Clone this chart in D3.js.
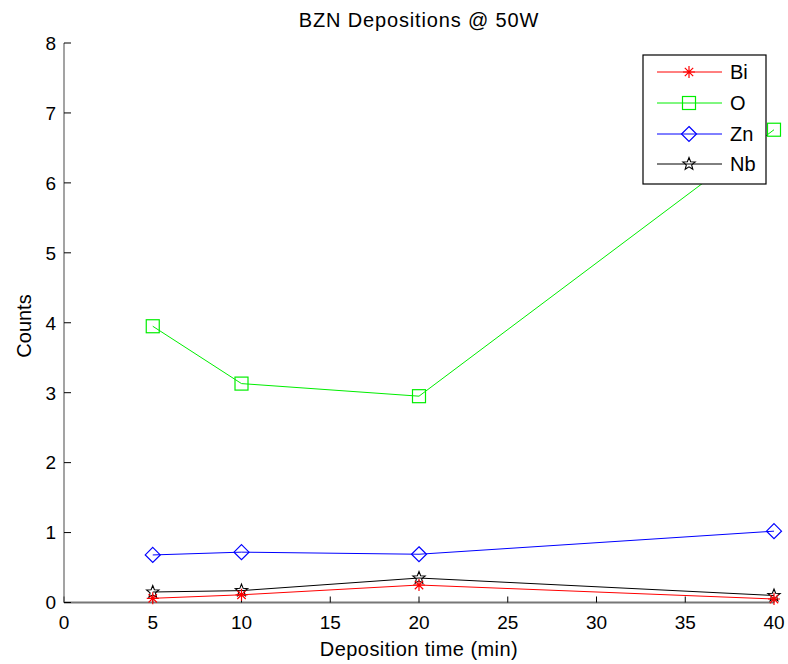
<!DOCTYPE html>
<html>
<head>
<meta charset="utf-8">
<script src="https://cdn.jsdelivr.net/npm/d3@7"></script>
<style>
body { margin: 0; background: #fff; }
text { font-family: "Liberation Sans", Arial, Helvetica, sans-serif; fill: #000; }
</style>
</head>
<body>
<svg width="788" height="664"></svg>
<script>
// deposition times (min)
var times = [5, 10, 20, 40];
// counts per element
var bi = [0.06, 0.11, 0.25, 0.05];
var ox = [3.95, 3.13, 2.95, 6.76];
var zn = [0.68, 0.72, 0.69, 1.02];
var nb = [0.15, 0.17, 0.35, 0.10];

var xTicks = [0, 5, 10, 15, 20, 25, 30, 35, 40];
var yTicks = [0, 1, 2, 3, 4, 5, 6, 7, 8];

var series = [
	{ name: "Bi", values: bi, color: "#ff0000", marker: "asterisk" },
	{ name: "O", values: ox, color: "#00ee00", marker: "square" },
	{ name: "Zn", values: zn, color: "#0000ff", marker: "diamond" },
	{ name: "Nb", values: nb, color: "#000000", marker: "star" }
];

var svg = d3.select("svg");

var x = d3.scaleLinear().domain([0, 40]).range([64, 774]);
var y = d3.scaleLinear().domain([0, 8]).range([602.5, 43]);

var FS = 19;  // tick labels
var LFS = 20; // title, labels, legend

// draw a marker at (cx, cy)
function drawMarker(g, type, cx, cy, color) {
	if (type == "square") {
		g.append("rect")
			.attr("x", cx - 6.5).attr("y", cy - 6.5)
			.attr("width", 13).attr("height", 13)
			.attr("fill", "none").attr("stroke", color).attr("stroke-width", 1.2);
	} else if (type == "diamond") {
		g.append("path")
			.attr("d", "M" + cx + "," + (cy - 7.5) + "L" + (cx + 7.5) + "," + cy + "L" + cx + "," + (cy + 7.5) + "L" + (cx - 7.5) + "," + cy + "Z")
			.attr("fill", "none").attr("stroke", color).attr("stroke-width", 1.2);
	} else if (type == "star") {
		var pts = [];
		for (var i = 0; i < 10; i++) {
			var r = (i % 2 == 0) ? 6.5 : 2.8;
			var a = -Math.PI / 2 + i * Math.PI / 5;
			pts.push([cx + r * Math.cos(a), cy + r * Math.sin(a)]);
		}
		g.append("path")
			.attr("d", "M" + pts.join("L") + "Z")
			.attr("fill", "none").attr("stroke", color).attr("stroke-width", 1.1);
	} else if (type == "asterisk") {
		var r = 6;
		var d = "M" + (cx - r) + "," + cy + "H" + (cx + r) +
			"M" + cx + "," + (cy - r) + "V" + (cy + r) +
			"M" + (cx - r * 0.7) + "," + (cy - r * 0.7) + "L" + (cx + r * 0.7) + "," + (cy + r * 0.7) +
			"M" + (cx - r * 0.7) + "," + (cy + r * 0.7) + "L" + (cx + r * 0.7) + "," + (cy - r * 0.7);
		g.append("path")
			.attr("d", d)
			.attr("fill", "none").attr("stroke", color).attr("stroke-width", 1.2);
	}
}

// axes
var xAxis = svg.append("g").attr("transform", "translate(0," + y(0) + ")");
xAxis.append("line").attr("x1", x(0)).attr("x2", x(40)).attr("stroke", "#777").attr("stroke-width", 2);
xTicks.forEach(function(t) {
	xAxis.append("line").attr("x1", x(t)).attr("x2", x(t)).attr("y1", 0).attr("y2", -6)
		.attr("stroke", "#000").attr("stroke-width", 1);
	xAxis.append("text").attr("x", x(t)).attr("y", 26)
		.attr("text-anchor", "middle").attr("font-size", FS).text(t);
});

var yAxis = svg.append("g");
yAxis.append("line").attr("x1", x(0)).attr("x2", x(0)).attr("y1", y(0)).attr("y2", y(8))
	.attr("stroke", "#666").attr("stroke-width", 1.2);
yTicks.forEach(function(t) {
	yAxis.append("line").attr("x1", x(0)).attr("x2", x(0) + 7).attr("y1", y(t)).attr("y2", y(t))
		.attr("stroke", "#000").attr("stroke-width", 1);
	yAxis.append("text").attr("x", 56).attr("y", y(t)).attr("dy", "0.36em")
		.attr("text-anchor", "end").attr("font-size", FS).text(t);
});

// lines + markers
var line = d3.line()
	.x(function(d, i) { return x(times[i]); })
	.y(function(d) { return y(d); });

var plot = svg.append("g");
series.slice().reverse().forEach(function(s) {
	plot.append("path").datum(s.values)
		.attr("d", line)
		.attr("fill", "none").attr("stroke", s.color).attr("stroke-width", 1);
	s.values.forEach(function(v, i) {
		drawMarker(plot, s.marker, x(times[i]), y(v), s.color);
	});
});

// title and labels
svg.append("text").attr("x", (x(0) + x(40)) / 2).attr("y", 27)
	.attr("text-anchor", "middle").attr("font-size", LFS).attr("letter-spacing", 0.85)
	.text("BZN Depositions @ 50W");
svg.append("text").attr("x", (x(0) + x(40)) / 2).attr("y", 656)
	.attr("text-anchor", "middle").attr("font-size", LFS).attr("letter-spacing", 0.45)
	.text("Deposition time (min)");
svg.append("text").attr("transform", "translate(31,326) rotate(-90)")
	.attr("text-anchor", "middle").attr("font-size", LFS).text("Counts");

// legend
var leg = svg.append("g");
leg.append("rect").attr("x", 643).attr("y", 55).attr("width", 123).attr("height", 129)
	.attr("fill", "#fff").attr("stroke", "#000").attr("stroke-width", 1.2);
var legY = [72, 103, 134, 164];
series.forEach(function(s, i) {
	leg.append("line").attr("x1", 657).attr("x2", 722).attr("y1", legY[i]).attr("y2", legY[i])
		.attr("stroke", s.color).attr("stroke-width", 1);
	drawMarker(leg, s.marker, 689, legY[i], s.color);
	leg.append("text").attr("x", 730).attr("y", legY[i]).attr("dy", "0.36em")
		.attr("font-size", LFS).text(s.name);
});
</script>
</body>
</html>
